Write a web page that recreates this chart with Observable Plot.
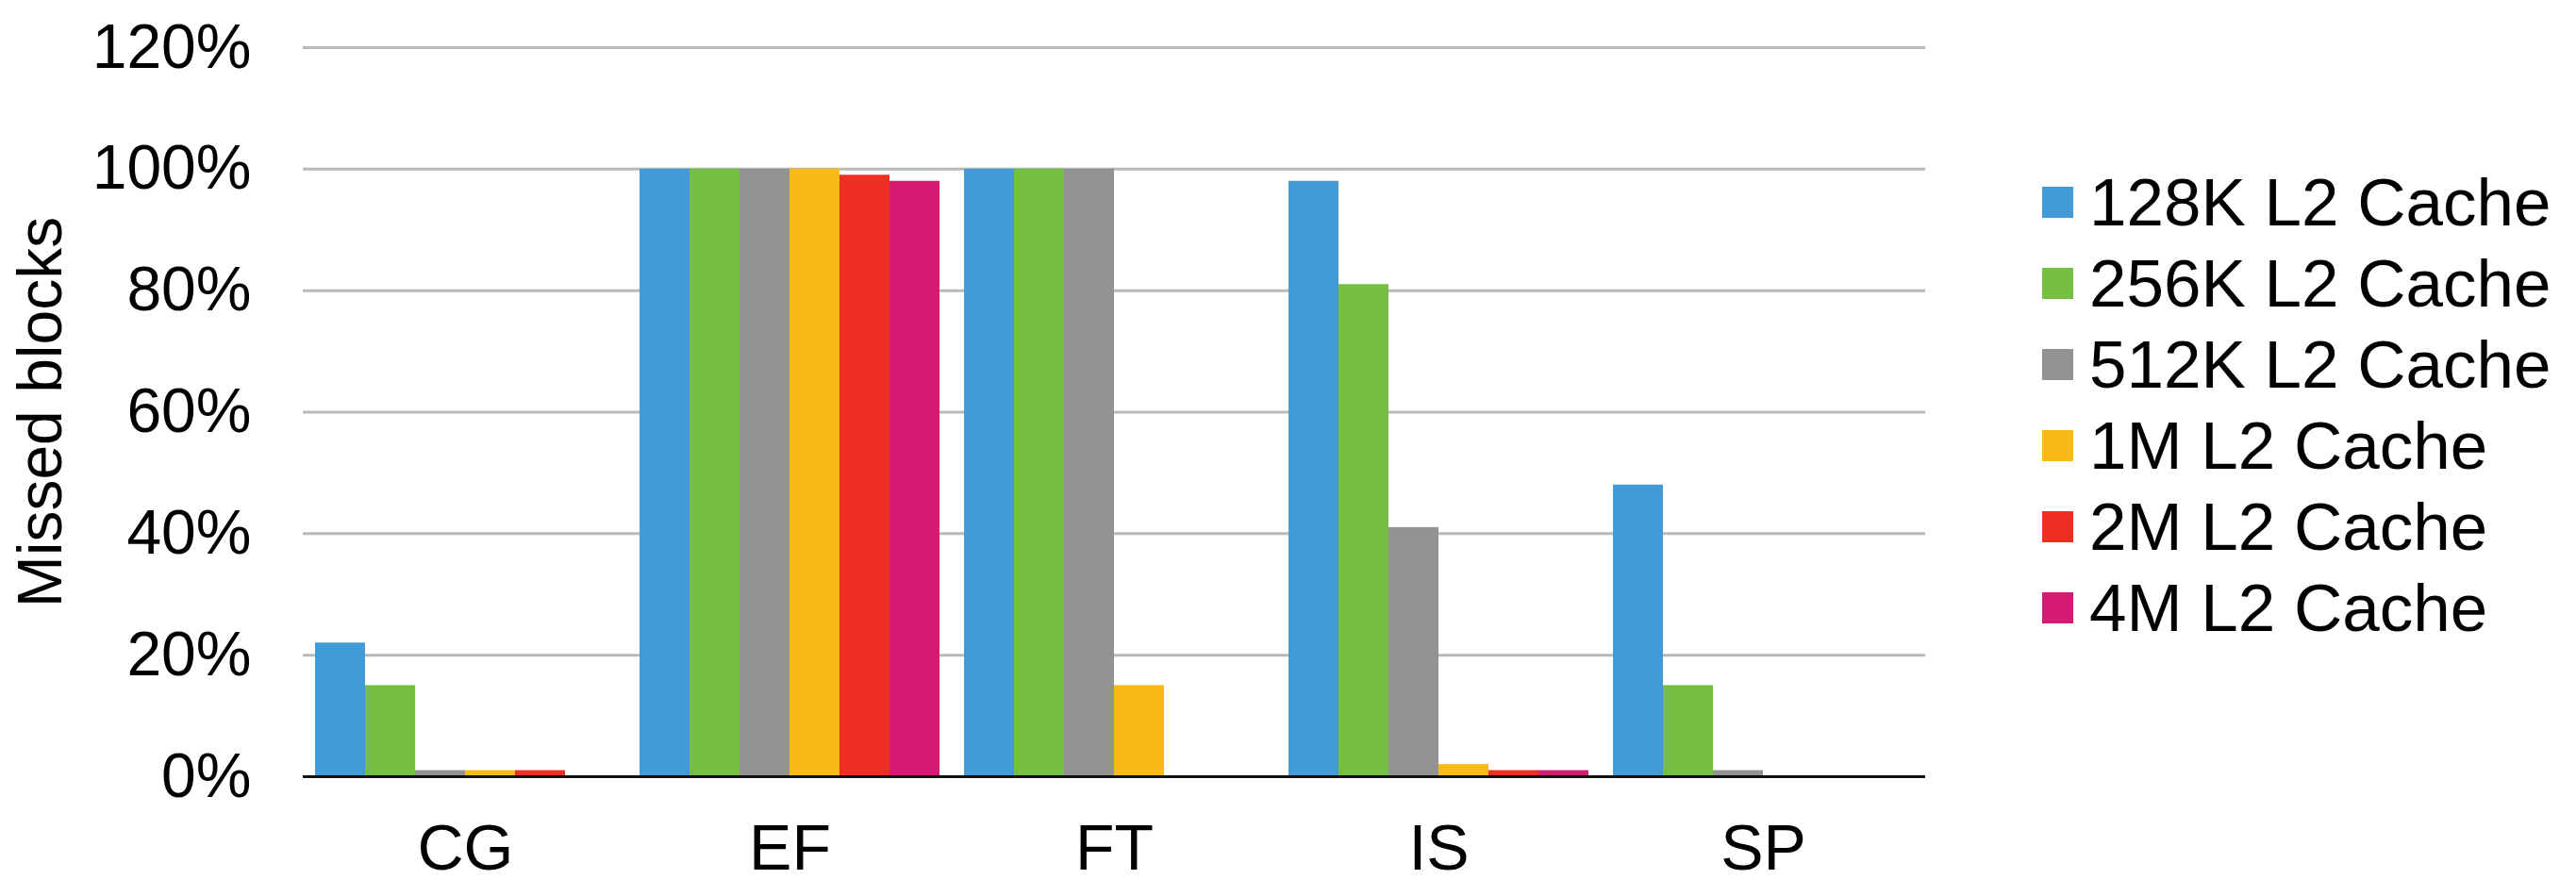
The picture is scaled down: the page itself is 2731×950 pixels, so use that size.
<!DOCTYPE html>
<html>
<head>
<meta charset="utf-8">
<script src="https://cdn.jsdelivr.net/npm/d3@7"></script>
<script src="https://cdn.jsdelivr.net/npm/@observablehq/plot@0.6"></script>
<style>
  html, body { margin: 0; padding: 0; background: #fff; }
  #wrap { position: relative; width: 2731px; height: 950px; font-family: "Liberation Sans", Arial, Helvetica, sans-serif; }
  #legend { position: absolute; left: 2165px; top: 171px; }
  .row { display: flex; align-items: center; height: 86px; font-size: 71px; color: #000; white-space: nowrap; }
  .sw { width: 33px; height: 33px; margin-right: 17px; flex: none; }
</style>
</head>
<body>
<div id="wrap"><div id="chart"></div><div id="legend"></div></div>
<script>
const categories = ["CG", "EF", "FT", "IS", "SP"];
const seriesNames = ["128K L2 Cache", "256K L2 Cache", "512K L2 Cache", "1M L2 Cache", "2M L2 Cache", "4M L2 Cache"];
const colors = ["#429bd6", "#75bf43", "#939393", "#f7ba17", "#ee3024", "#d41a73"];
// percent values per series, in category order
const s128K = [22, 100, 100, 98, 48];
const s256K = [15, 100, 100, 81, 15];
const s512K = [1, 100, 100, 41, 1];
const s1M   = [1, 100, 15, 2, 0];
const s2M   = [1, 99, 0, 1, 0];
const s4M   = [0, 98, 0, 1, 0];
const yTicks = [0, 0.2, 0.4, 0.6, 0.8, 1.0, 1.2];

const seriesValues = [s128K, s256K, s512K, s1M, s2M, s4M];
const table = [];
categories.forEach((c, ci) => {
  seriesNames.forEach((s, si) => {
    table.push({cat: c, series: s, value: seriesValues[si][ci] / 100});
  });
});

const chart = Plot.plot({
  width: 2731,
  height: 950,
  marginLeft: 320,
  marginRight: 689,
  marginTop: 50,
  marginBottom: 127,
  style: {fontFamily: '"Liberation Sans", Arial, Helvetica, sans-serif', color: "#000", background: "transparent"},
  fx: {domain: categories, padding: 0},
  x: {domain: seriesNames, paddingInner: 0, paddingOuter: 0.21, axis: null},
  y: {domain: [0, 1.2]},
  color: {domain: seriesNames, range: colors},
  marks: [
    Plot.gridY(yTicks, {stroke: "#b9b9b9", strokeOpacity: 1, strokeWidth: 3}),
    Plot.barY(table, {fx: "cat", x: "series", y: "value", fill: "series"}),
    Plot.ruleY([0], {stroke: "#111", strokeWidth: 3}),
    Plot.axisY(yTicks, {
      tickSize: 0, tickPadding: 55, tickFormat: d3.format(".0%"), fontSize: 66,
      label: "Missed blocks", labelAnchor: "center", labelOffset: 303, labelArrow: "none"
    }),
    Plot.axisFx({anchor: "bottom", tickSize: 0, tickPadding: 50, fontSize: 68, label: null})
  ]
});
document.getElementById("chart").appendChild(chart);

const legend = document.getElementById("legend");
seriesNames.forEach((s, i) => {
  const row = document.createElement("div");
  row.className = "row";
  const sw = document.createElement("span");
  sw.className = "sw";
  sw.style.background = colors[i];
  const t = document.createElement("span");
  t.textContent = s;
  row.appendChild(sw);
  row.appendChild(t);
  legend.appendChild(row);
});
</script>
</body>
</html>
